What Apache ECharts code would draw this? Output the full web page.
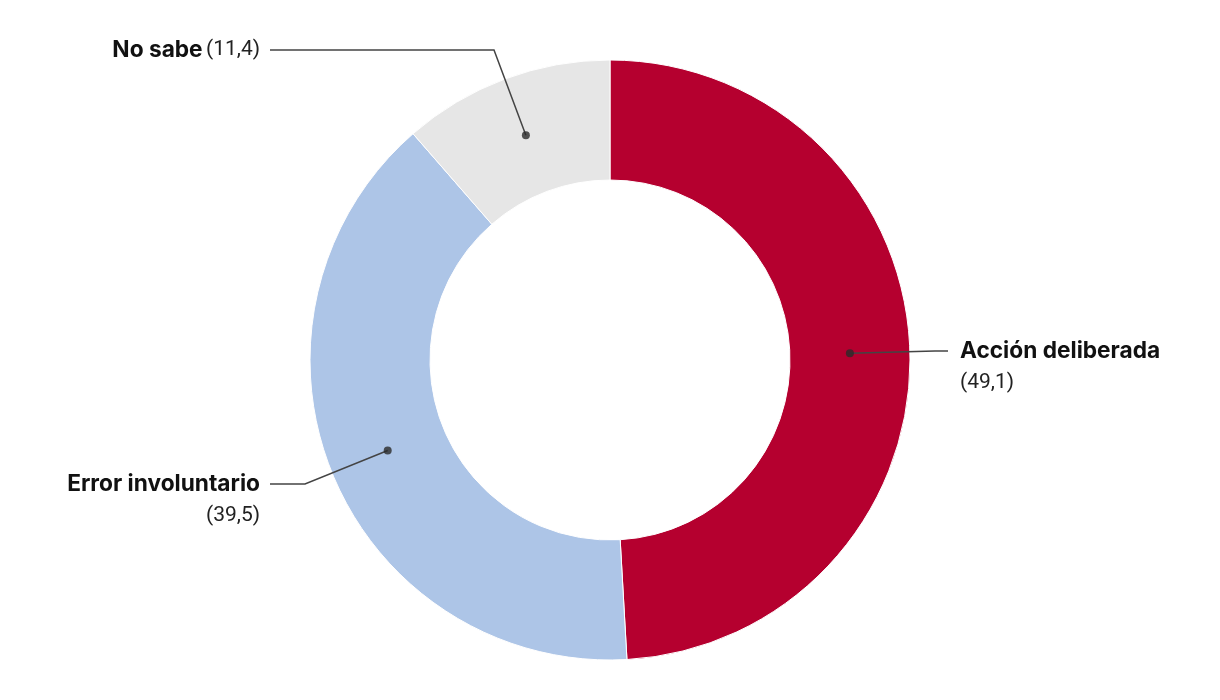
<!DOCTYPE html>
<html><head><meta charset="utf-8">
<script src="https://cdn.jsdelivr.net/npm/echarts@6/dist/echarts.min.js"></script>
<style>html,body{margin:0;padding:0;background:#fff}#c{width:1220px;height:700px}</style>
</head><body><div id="c"></div>
<script>
const categories = ['Acción deliberada', 'Error involuntario', 'No sabe'];
const values = [49.1, 39.5, 11.4];
const valueLabels = ['49,1', '39,5', '11,4'];
const colors = ['#b5002f', '#adc5e7', '#e6e6e6'];

const CX = 610, CY = 360, R_IN = 180, R_OUT = 300, DOT_FRAC = 0.8;

// label placement (layout only)
const labelPlace = [
  { x: 960, y: 335, align: 'left', bend: [935, 351], end: [948, 351] },
  { x: 260, y: 468, align: 'right', bend: [305, 484], end: [270, 484] },
  { x: 260, y: 34, align: 'right', bend: [494, 50], end: [270, 50] }
];

const total = values.reduce((a, b) => a + b, 0);
let cum = 0;
const dotData = values.map(v => { const mid = cum + v / 2; cum += v; return [DOT_FRAC, mid / total * 100]; });

const richStyles = {
  b: { fontFamily: 'Inter', fontWeight: 'bold', fontSize: 22.7, color: '#111111', lineHeight: 32 },
  v: { fontFamily: 'Roboto', fontWeight: 'normal', fontSize: 21, color: '#222222', lineHeight: 32 }
};

const chart = echarts.init(document.getElementById('c'), null, { renderer: 'canvas' });
chart.setOption({
  animation: false,
  backgroundColor: '#ffffff',
  polar: { center: [CX, CY], radius: R_OUT },
  angleAxis: { type: 'value', min: 0, max: 100, startAngle: 90, clockwise: true, show: false },
  radiusAxis: { type: 'value', min: 0, max: 1, show: false },
  series: [
    {
      type: 'pie',
      z: 2,
      center: [CX, CY],
      radius: [R_IN, R_OUT],
      startAngle: 90,
      clockwise: true,
      silent: true,
      itemStyle: { borderColor: '#ffffff', borderWidth: 1 },
      label: { show: false },
      labelLine: { show: false },
      data: categories.map((c, i) => ({ name: c, value: values[i], itemStyle: { color: colors[i] } }))
    },
    {
      type: 'pie',
      z: 5,
      center: [CX, CY],
      radius: [R_IN, R_OUT],
      startAngle: 90,
      clockwise: true,
      silent: true,
      itemStyle: { color: 'rgba(0,0,0,0)', borderWidth: 0 },
      data: categories.map((c, i) => ({
        name: c, value: values[i],
        label: {
          formatter: i === 2 ? '{b|' + c + '} {v|(' + valueLabels[i] + ')}'
                             : '{b|' + c + '}\n{v|(' + valueLabels[i] + ')}'
        }
      })),
      label: { show: true, position: 'outside', rich: richStyles },
      labelLine: { show: true, lineStyle: { color: '#444444', width: 1.5 } },
      labelLayout: function (p) {
        const lp = labelPlace[p.dataIndex];
        const s = p.labelLinePoints[0];
        const dot = [CX + (s[0] - CX) * DOT_FRAC, CY + (s[1] - CY) * DOT_FRAC];
        return {
          x: lp.x, y: lp.y, align: lp.align, verticalAlign: 'top',
          labelLinePoints: [dot, lp.bend, lp.end]
        };
      }
    },
    {
      type: 'scatter',
      coordinateSystem: 'polar',
      symbol: 'circle',
      symbolSize: 8,
      silent: true,
      itemStyle: { color: '#2b2b2b' },
      data: dotData,
      z: 10
    }
  ]
});
</script></body></html>
